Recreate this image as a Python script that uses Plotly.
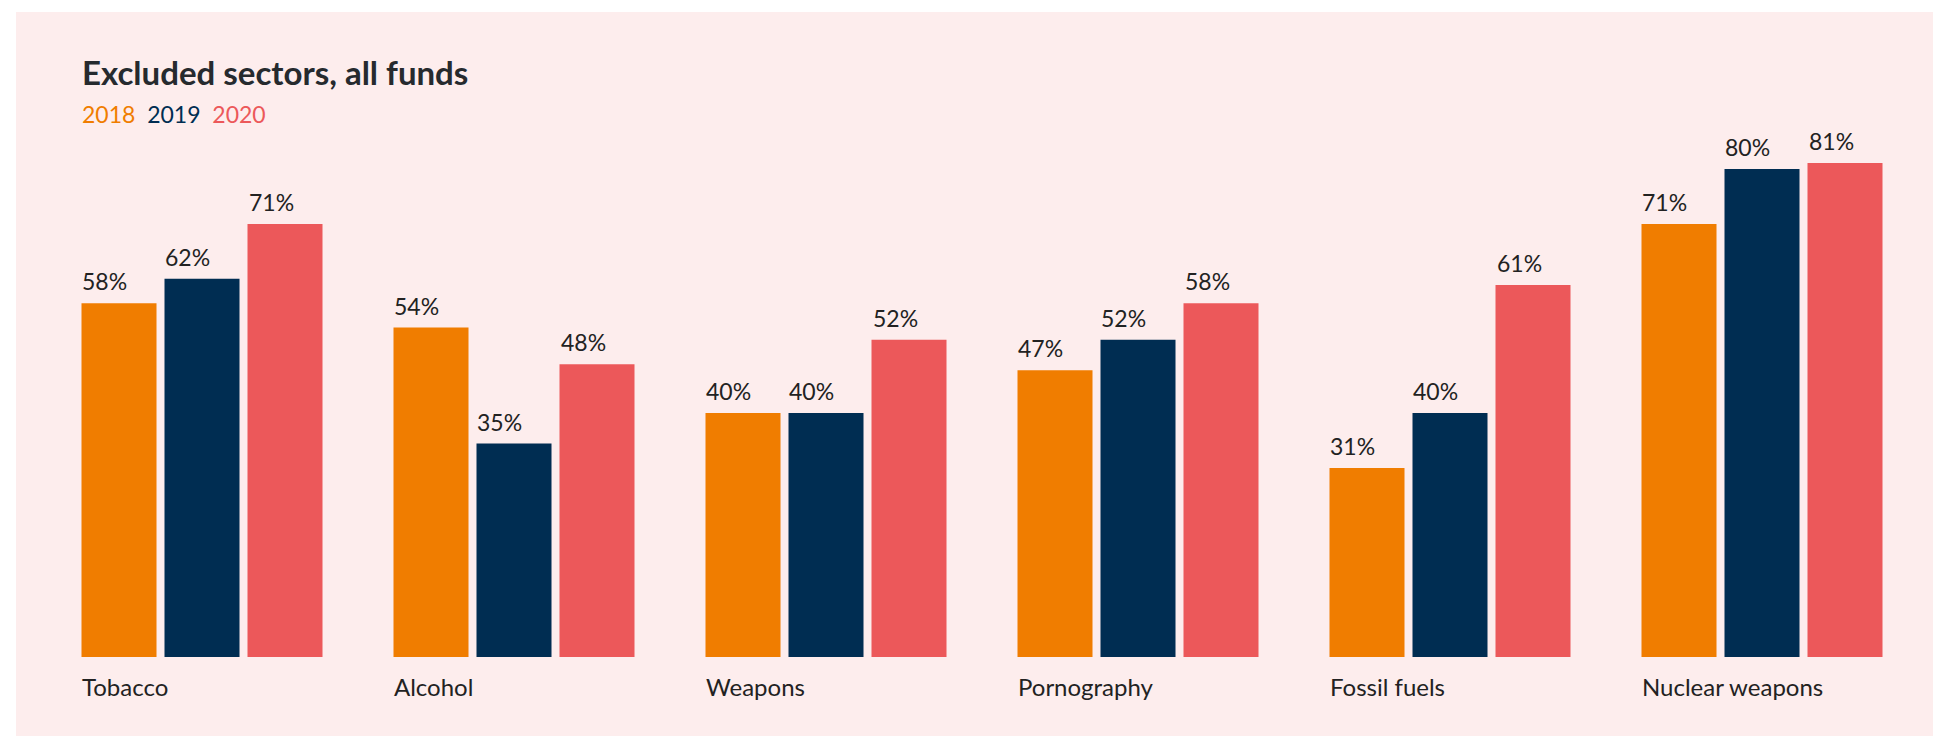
import plotly.graph_objects as go

categories = ["Tobacco", "Alcohol", "Weapons", "Pornography", "Fossil fuels", "Nuclear weapons"]
years = ["2018", "2019", "2020"]
values_2018 = [58, 54, 40, 47, 31, 71]
values_2019 = [62, 35, 40, 52, 40, 80]
values_2020 = [71, 48, 52, 58, 61, 81]
colors = ["#F07D00", "#002D52", "#EC585A"]

series = [values_2018, values_2019, values_2020]

W, H = 1941, 736
OFF = 8  # page body margin
ML, MT, MB = 46 - OFF, 108 - OFF, 79 + OFF
PW = 1872
MR = W - ML - PW
PH = H - MT - MB
YMAX = 90
BG = "#FDEDED"
TXT = "#222222"
FONT = "Lato"

fig = go.Figure()
for name, vals, col in zip(years, series, colors):
    fig.add_trace(go.Bar(x=categories, y=vals, name=name, marker=dict(color=col, line=dict(width=0)),
                         showlegend=False, hoverinfo="x+y"))

slot_px = PW / len(categories)
bargap = 0.2019
bargroupgap = 0.0964
groupw = slot_px * (1 - bargap)
sub = groupw / 3
bar_w = sub * (1 - bargroupgap)
annotations = []
for i, vals in enumerate(series):
    center_off = (i - 1) * sub
    for c, v in zip(categories, vals):
        annotations.append(dict(x=c, y=v, xref="x", yref="y", text=f"{v}%", showarrow=False,
                                xanchor="left", yanchor="bottom", xshift=center_off - bar_w / 2 - 1,
                                yshift=6, font=dict(family=FONT, size=23, color=TXT)))

left_off = -sub - bar_w / 2 - 1
for c in categories:
    annotations.append(dict(x=c, y=0, xref="x", yref="y", text=c, showarrow=False,
                            xanchor="left", yanchor="top", xshift=left_off, yshift=-13,
                            font=dict(family=FONT, size=24, color=TXT)))

def px_x(p):
    return (p - OFF - ML) / PW

def px_y(p):
    return (H - MB - (p - OFF)) / PH

annotations.append(dict(x=px_x(80), y=px_y(50), xref="paper", yref="paper", xanchor="left", yanchor="top",
                        text="<b>Excluded sectors, all funds</b>", showarrow=False,
                        font=dict(family=FONT, size=33, color="#262A2E")))
legend_text = "  ".join(f'<span style="color:{c}">{y}</span>' for y, c in zip(years, colors))
annotations.append(dict(x=px_x(80), y=px_y(98), xref="paper", yref="paper", xanchor="left", yanchor="top",
                        text=legend_text, showarrow=False, font=dict(family=FONT, size=23)))

shapes = [dict(type="rect", xref="paper", yref="paper", x0=px_x(16), x1=px_x(W + 20),
               y0=px_y(H + 20), y1=px_y(12), fillcolor=BG, line=dict(width=0), layer="below")]

fig.update_layout(
    width=W, height=H, margin=dict(l=ML, r=MR, t=MT, b=MB, pad=0),
    paper_bgcolor="white", plot_bgcolor="rgba(0,0,0,0)",
    barmode="group", bargap=bargap, bargroupgap=bargroupgap,
    xaxis=dict(showticklabels=False, showgrid=False, zeroline=False, showline=False, ticks=""),
    yaxis=dict(range=[0, YMAX], showticklabels=False, showgrid=False, zeroline=False, showline=False, ticks=""),
    annotations=annotations, shapes=shapes, font=dict(family=FONT),
)

fig.write_html("out.html")
